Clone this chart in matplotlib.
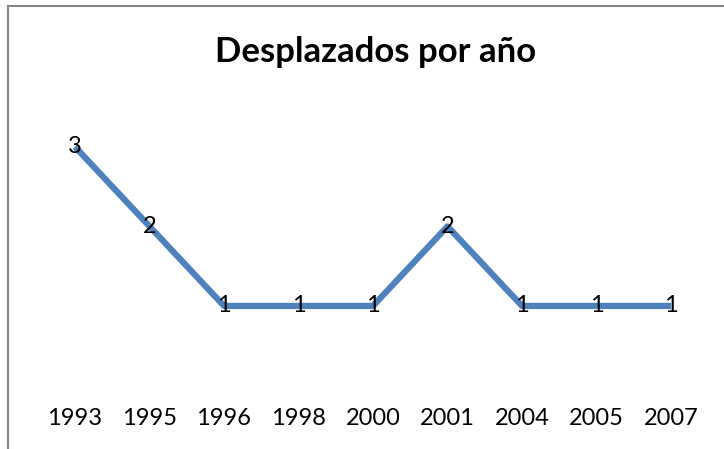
import matplotlib
matplotlib.use("Agg")
import matplotlib.pyplot as plt
from matplotlib.lines import Line2D

# Data
years = ['1993', '1995', '1996', '1998', '2000', '2001', '2004', '2005', '2007']
desplazados = [3, 2, 1, 1, 1, 2, 1, 1, 1]

plt.rcParams['font.family'] = ['Lato', 'DejaVu Sans']

W, H = 724, 449
fig = plt.figure(figsize=(W / 100, H / 100), dpi=100)

# plot area placed in pixels
left, right, bottom, top = 37.75, 708.25, 385.5, 107
ax = fig.add_axes([left / W, 1 - bottom / H, (right - left) / W, (bottom - top) / H])

x = list(range(len(years)))
ax.plot(x, desplazados, color='#4F81BD', linewidth=4.5, solid_capstyle='butt')
for xi, v in zip(x, desplazados):
    ax.text(xi, v, str(v), ha='center', va='center', fontsize=17, color='black')

ax.set_xlim(-0.5, len(years) - 0.5)
ax.set_ylim(0, 3.5)
ax.set_xticks(x)
ax.set_xticklabels(years, fontsize=17)
ax.tick_params(axis='x', length=0, pad=16)
ax.set_yticks([])
for s in ax.spines.values():
    s.set_visible(False)

fig.text(376 / W, 1 - 62 / H, 'Desplazados por año', ha='center', va='baseline',
         fontsize=25, fontweight='bold')

# chart border (only top and left visible in the crop)
fig.add_artist(Line2D([8 / W, 1], [1 - 6 / H, 1 - 6 / H], color='#868686', linewidth=1.5))
fig.add_artist(Line2D([8 / W, 8 / W], [0, 1 - 6 / H], color='#868686', linewidth=1.5))

fig.savefig('out.png', dpi=100)
